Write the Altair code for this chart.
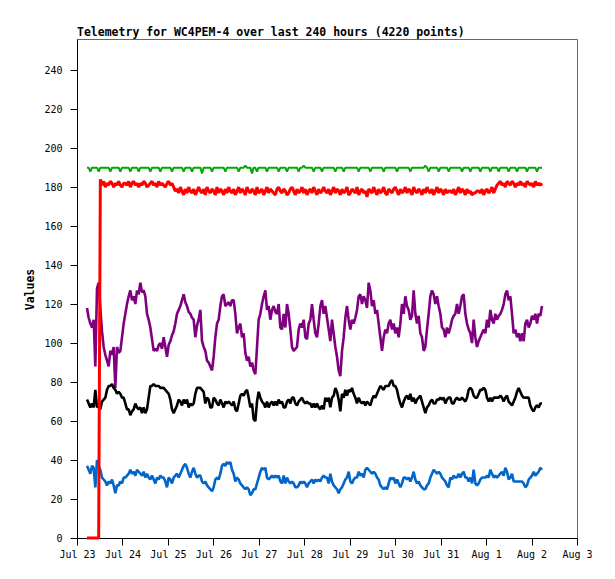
import altair as alt
import pandas as pd

TITLE = "Telemetry for WC4PEM-4 over last 240 hours (4220 points)"
START = "2024-07-23 05:17:00"
STEP = "3168s"

GREEN_VALUES = [
    190,190,188,190,190,190,190,188,190,190,
    190,190,190,190,188,190,190,190,190,190,
    188,190,190,190,190,190,188,190,190,190,
    190,188,190,190,190,190,190,190,188,190,
    190,190,190,190,188,190,190,190,190,190,
    190,188,190,190,190,190,190,190,188,190,
    190,190,190,188,190,190,190,190,190,187,
    190,190,190,190,190,188,190,190,190,190,
    190,190,190,188,190,190,190,190,190,190,
    190,188,190,190,190,191,190,190,190,187,
    190,190,188,190,190,190,190,190,188,190,
    190,190,190,190,190,188,190,190,190,190,
    188,190,190,190,190,190,190,188,190,190,
    191,190,190,190,190,190,188,190,190,190,
    190,188,190,190,190,190,190,190,190,188,
    190,190,190,190,188,190,190,190,190,190,
    190,190,190,188,190,190,190,190,190,190,
    188,190,190,190,190,190,190,190,188,190,
    190,190,190,190,190,190,188,190,190,190,
    190,190,190,190,188,190,190,190,190,190,
    190,190,190,191,190,188,190,190,190,190,
    190,188,190,190,190,190,190,188,190,190,
    190,190,190,190,190,188,190,190,190,190,
    188,190,190,190,190,190,188,190,190,190,
    190,190,188,190,190,190,190,188,190,190,
    190,190,190,188,190,190,190,190,188,190,
    190,190,190,190,188,190,190,190,190,190,
    188,190,190,190,
]

RED_VALUES = [
    0,0,0,0,0,0,0,0,
    184,181,183,180,182,181,183,182,180,182,
    181,183,181,180,182,182,181,183,180,182,
    183,181,182,180,182,181,183,182,180,181,
    182,183,181,182,180,183,181,182,181,180,
    182,183,181,182,180,
    178,179,177,180,178,176,179,177,180,178,
    177,179,176,178,180,
    178,177,179,176,180,178,177,179,178,176,
    180,177,179,178,176,179,177,180,178,177,
    179,176,178,180,177,179,178,176,180,178,
    177,179,178,176,180,177,178,179,176,178,
    180,177,179,178,177,176,179,180,178,177,
    179,178,176,177,179,180,178,176,179,177,
    178,180,177,179,176,178,179,177,180,178,
    176,179,177,178,180,
    178,177,179,176,178,180,177,179,178,176,
    179,177,178,180,176,177,179,178,177,180,
    176,178,179,177,178,175,179,178,177,180,
    178,176,179,177,178,180,177,176,179,178,
    177,179,180,178,176,179,177,178,180,177,
    179,178,176,180,178,177,179,178,176,179,
    177,180,178,177,179,176,178,180,177,179,
    178,176,179,177,178,
    178,177,179,176,178,180,177,179,178,176,
    179,177,178,176,177,177,178,178,177,179,
    176,178,179,177,178,180,177,179,
    181,182,183,181,182,180,183,182,181,183,
    182,180,182,181,183,181,182,180,183,182,
    181,182,180,183,181,182,181,182,
]

PURPLE_VALUES = [
    118,113,110,108,112,88,128,131,118,106,
    98,94,91,88,96,94,98,77,98,95,
    96,103,110,115,120,124,127,122,124,120,
    127,125,131,126,127,124,115,112,108,102,
    96,97,96,99,100,97,103,98,93,99,
    101,104,106,110,115,117,119,122,125,121,
    119,116,115,113,112,103,109,112,
    117,101,98,96,91,90,88,86,93,103,
    110,112,119,124,125,119,120,121,119,122,
    122,115,105,108,110,103,105,95,91,93,
    88,90,86,84,98,112,115,120,124,127,
    117,119,112,117,119,116,115,120,108,107,
    115,108,120,115,107,98,96,97,98,107,
    110,108,112,103,102,110,112,120,112,105,
    103,110,119,122,115,
    119,113,107,101,112,105,98,93,86,83,
    96,103,113,119,112,107,112,110,113,117,
    124,125,120,124,122,118,131,127,119,122,
    115,117,110,103,96,103,107,105,110,112,
    107,110,105,108,103,110,120,115,124,119,
    117,112,114,127,115,110,114,105,103,96,
    98,107,115,124,127,125,120,124,119,115,
    108,107,103,108,105,
    108,112,114,115,120,115,119,124,125,115,
    110,107,105,100,112,103,98,101,103,105,
    107,105,112,108,117,112,110,115,112,114,
    115,117,120,125,127,122,124,115,105,107,
    103,105,101,105,101,110,112,108,110,114,
    112,115,110,115,114,119,
]

BLACK_VALUES = [
    71,69,67,69,67,76,67,68,66,70,
    71,72,76,78,78,79,77,76,74,75,
    74,72,72,69,66,66,63,65,66,69,
    67,66,67,64,67,64,66,72,78,78,
    79,78,78,78,77,77,77,76,75,74,
    71,66,64,66,68,71,70,68,71,69,
    71,67,69,68,69,74,77,77,
    77,76,75,69,72,71,67,67,72,71,
    69,68,71,69,67,70,69,70,69,68,
    70,66,65,69,73,74,73,75,76,72,
    67,69,61,60,70,75,72,70,69,67,
    70,67,69,70,68,70,68,71,69,70,
    67,67,70,71,69,72,72,69,68,70,
    71,72,70,69,70,69,69,67,69,67,
    69,67,66,68,66,
    72,70,72,67,72,73,77,75,71,65,
    74,72,76,73,76,75,77,74,72,69,
    72,70,69,70,68,70,69,68,71,73,
    72,74,76,78,77,76,78,78,78,80,
    81,78,78,76,72,69,67,70,72,73,
    71,74,70,72,69,71,72,73,70,67,
    64,67,68,70,71,69,69,71,71,72,
    71,72,69,71,72,
    72,69,69,71,72,71,71,72,71,70,
    72,76,77,76,73,72,72,74,76,76,
    77,76,72,70,72,70,72,72,72,72,
    73,72,70,72,73,70,69,68,70,72,
    75,77,75,73,72,72,72,72,68,66,
    65,67,68,67,69,69,
]

BLUE_VALUES = [
    37,35,33,37,36,26,40,37,35,31,
    30,29,27,29,28,30,27,23,27,27,
    29,28,31,31,32,33,35,33,34,32,
    35,34,33,32,34,31,33,31,30,32,
    30,28,31,30,32,31,31,29,26,31,
    30,28,31,32,33,31,33,35,37,38,
    36,33,31,34,36,33,31,32,
    32,29,28,29,27,26,25,24,26,30,
    31,30,33,37,38,37,39,38,39,35,
    33,29,31,30,28,27,26,25,26,25,
    22,23,25,25,28,31,34,36,35,36,
    31,30,31,32,31,32,31,32,29,28,
    32,28,31,29,28,29,28,26,26,27,
    29,28,29,28,26,28,29,30,28,30,
    29,30,29,31,32,
    31,31,28,33,29,27,26,25,23,25,
    26,28,30,31,34,29,28,30,31,31,
    34,32,33,31,35,36,35,34,33,34,
    33,31,30,27,26,25,26,25,28,31,
    30,31,28,30,28,26,28,31,31,30,
    31,29,31,34,30,28,29,27,26,25,
    25,27,28,31,33,35,34,33,34,33,
    31,30,29,27,26,
    31,30,32,31,31,33,31,33,34,31,
    31,29,31,28,35,28,27,28,30,31,
    31,31,32,31,35,33,31,32,31,32,
    33,34,32,36,34,30,31,33,29,29,
    29,29,29,29,28,26,27,30,31,32,
    34,32,33,34,36,35,
]

SERIES_NAMES = ["green", "purple", "black", "blue", "red"]
SERIES_COLORS = ["#00AA00", "#7F007F", "#000000", "#0066CC", "#FF0000"]
SERIES_WIDTHS = [2, 2.6, 2.6, 2.6, 3]
SERIES_DATA = [GREEN_VALUES, PURPLE_VALUES, BLACK_VALUES, BLUE_VALUES, RED_VALUES]

Y_TICKS = list(range(0, 241, 20))
X_TICK_DAYS = [(7, 23), (7, 24), (7, 25), (7, 26), (7, 27), (7, 28), (7, 29),
               (7, 30), (7, 31), (8, 1), (8, 2), (8, 3)]

MONO = "DejaVu Sans Mono"

x_scale = alt.Scale(domain=[alt.DateTime(year=2024, month=7, date=23),
                            alt.DateTime(year=2024, month=8, date=3)])
y_scale = alt.Scale(domain=[0, 256], nice=False, zero=True)

x_axis = alt.Axis(
    values=[alt.DateTime(year=2024, month=m, date=d) for m, d in X_TICK_DAYS],
    format="%b %-d", title=None, grid=False, labelFlush=False,
    labelOverlap=False, tickSize=7, labelPadding=4,
    domainColor="black", tickColor="black", labelColor="black",
    labelFont=MONO, labelFontSize=10,
)
y_axis = alt.Axis(
    values=Y_TICKS, title="Values", grid=False, tickSize=7, labelPadding=8,
    domainColor="black", tickColor="black", labelColor="black",
    labelFont=MONO, labelFontSize=10,
    titleFont=MONO, titleFontSize=11.5, titleFontWeight="bold", titleColor="black",
    titleX=-42, titleY=250,
)

layers = []
for name, vals, color, sw in zip(SERIES_NAMES, SERIES_DATA, SERIES_COLORS, SERIES_WIDTHS):
    times = pd.date_range(START, periods=len(vals), freq=STEP)
    df = pd.DataFrame({"time": times, "value": vals, "series": name})
    layers.append(
        alt.Chart(df).mark_line(color=color, strokeWidth=sw, clip=False,
                                strokeJoin="bevel").encode(
            x=alt.X("time:T", scale=x_scale, axis=x_axis),
            y=alt.Y("value:Q", scale=y_scale, axis=y_axis),
        )
    )

chart = alt.layer(*layers).properties(
    width=500,
    height=499,
    title=alt.TitleParams(text=TITLE, anchor="start", frame="group",
                          font=MONO, fontSize=11.5, fontWeight="bold",
                          color="black", offset=1),
    autosize=alt.AutoSizeParams(type="none"),
    padding={"left": 69, "top": 31, "right": 30, "bottom": 33},
).configure_view(stroke="#666666", strokeWidth=1)

chart.save("out.html", embed_options={"renderer": "svg", "actions": False})
